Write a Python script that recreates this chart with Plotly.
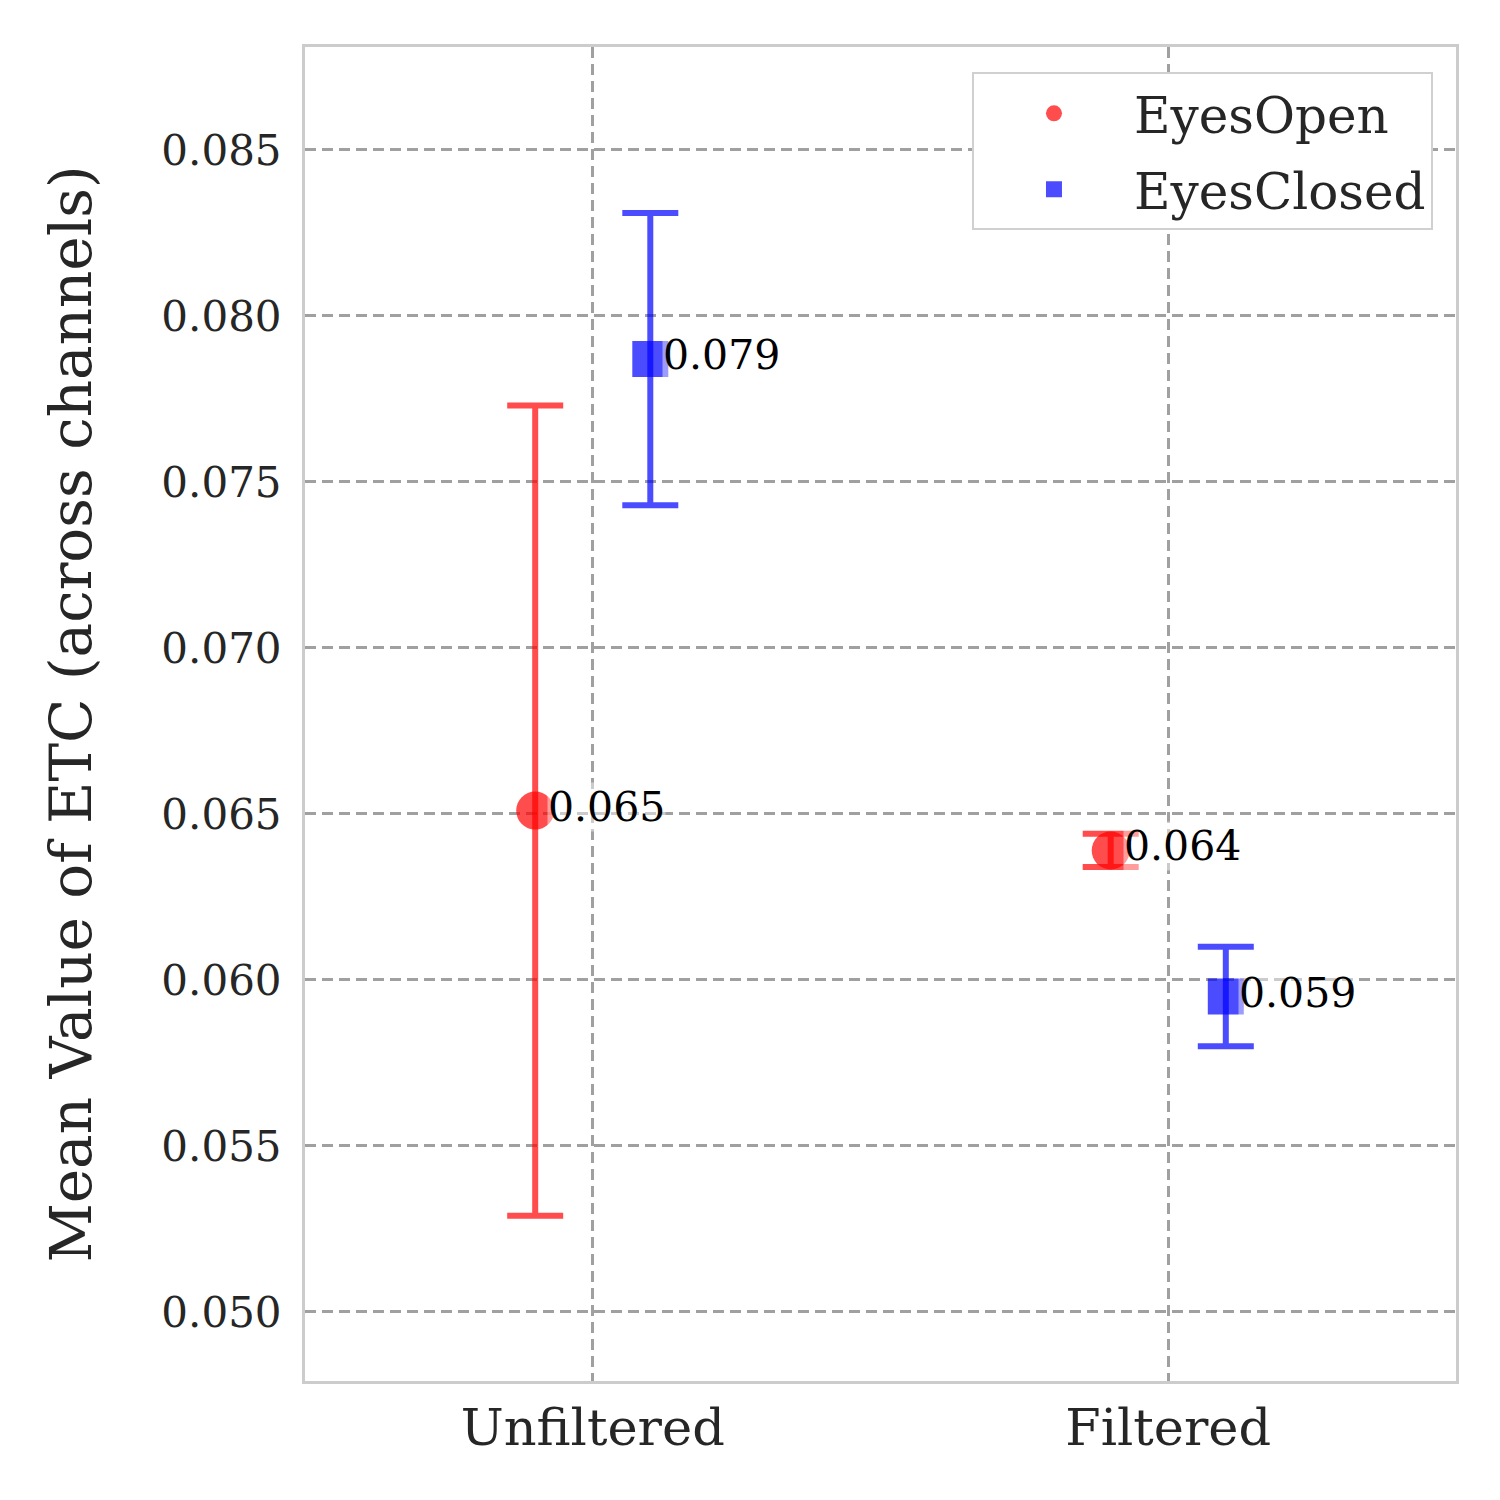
import plotly.graph_objects as go

# values
conditions = ["Unfiltered", "Filtered"]
eyes_open_mean = [0.0651, 0.0639]
eyes_open_err = [0.0122, 0.0005]
eyes_closed_mean = [0.0787, 0.0595]
eyes_closed_err = [0.0044, 0.0015]
y_ticks = [0.050, 0.055, 0.060, 0.065, 0.070, 0.075, 0.080, 0.085]

FONT = "DejaVu Serif"
INK = "#262626"
RED = "rgba(255,0,0,0.7)"
BLUE = "rgba(0,0,255,0.7)"
OFFSET = 0.1


def main():
    fig = go.Figure()

    groups = [
        ("EyesOpen", eyes_open_mean, eyes_open_err, RED, "circle", -OFFSET),
        ("EyesClosed", eyes_closed_mean, eyes_closed_err, BLUE, "square", OFFSET),
    ]
    for name, means, errs, color, symbol, shift in groups:
        xs = [i + shift for i in range(len(conditions))]
        fig.add_trace(go.Scatter(
            x=xs, y=means, name=name, mode="markers", legendgroup=name,
            marker=dict(color=color, size=38 if symbol == "circle" else 36,
                        symbol=symbol, line=dict(width=0)),
            error_y=dict(type="data", array=errs, visible=True,
                         color=color, thickness=6, width=28),
        ))
        for x, m in zip(xs, means):
            fig.add_annotation(
                x=x, y=m, text=f"{m:.3f}", showarrow=False,
                xanchor="left", yanchor="middle", xshift=12, yshift=4,
                font=dict(family=FONT, size=41, color="black"),
                bgcolor="rgba(255,255,255,0.45)", borderpad=0,
            )

    axis_common = dict(
        showgrid=True, gridcolor="#a0a0a0", gridwidth=2.5, griddash="11px,6px",
        showline=True, linecolor="#cccccc", linewidth=3, mirror=True,
        zeroline=False, ticks="",
    )
    fig.update_xaxes(
        range=[-0.5, 1.5], tickvals=list(range(len(conditions))), ticktext=conditions,
        tickfont=dict(family=FONT, size=51, color=INK), ticklabelstandoff=0,
        **axis_common,
    )
    fig.update_yaxes(
        range=[0.04792, 0.0881], tickvals=y_ticks,
        ticktext=[f"{v:.3f}" for v in y_ticks],
        tickfont=dict(family=FONT, size=42, color=INK), ticklabelstandoff=12,
        title=dict(text="Mean Value of ETC (across channels)", standoff=52,
                   font=dict(family=FONT, size=58, color=INK)),
        **axis_common,
    )

    # page body adds a few px, so margins are shifted to land the plot box in place
    fig.update_layout(
        width=1500, height=1500,
        margin=dict(l=297, r=52, t=39, b=127),
        paper_bgcolor="white", plot_bgcolor="white",
        legend=dict(
            x=0.98, y=0.981, xanchor="right", yanchor="top",
            bgcolor="white", bordercolor="#d0d0d0", borderwidth=2,
            font=dict(family=FONT, size=50, color=INK),
            itemsizing="trace", itemwidth=150,
            traceorder="grouped", tracegroupgap=8,
        ),
    )

    fig.write_html("out.html")


if __name__ == "__main__":
    main()
